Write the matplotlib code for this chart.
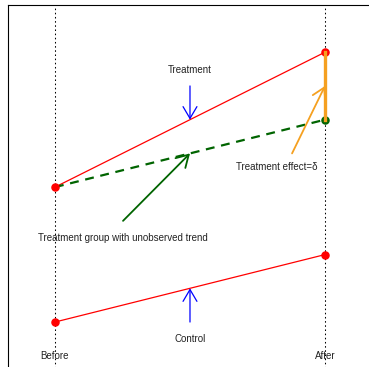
import matplotlib
matplotlib.use("Agg")
import matplotlib.pyplot as plt
from matplotlib.patches import FancyArrowPatch

plt.rcParams['font.family'] = ['Liberation Sans', 'DejaVu Sans']

# Data: two periods, treatment / control outcomes
periods = [0, 1]
period_labels = ["Before", "After"]
treatment = [3, 5]
control = [1, 2]
counterfactual = [3, 4]  # treatment group with unobserved (parallel) trend

fig = plt.figure(figsize=(3.69, 3.67), dpi=100)
ax = fig.add_axes([8 / 369, -9 / 367, 371 / 369, 371 / 367])
ax.set_xlim(-0.174, 1.2)
ax.set_ylim(0.2, 5.7)
ax.set_xticks([])
ax.set_yticks([])
for s in ax.spines.values():
    s.set_linewidth(0.8)

# vertical guide lines
for p in periods:
    ax.axvline(p, color="black", lw=0.75, linestyle=(0, (1.5, 2.5)), zorder=1)

ax.plot(periods, treatment, color="red", lw=0.9, zorder=2)
ax.plot(periods, control, color="red", lw=0.9, zorder=2)
ax.plot(periods, counterfactual, color="darkgreen", lw=1.6, dashes=[4, 3], zorder=2)

ax.scatter(periods, treatment, color="red", s=26, zorder=3)
ax.scatter(periods, control, color="red", s=26, zorder=3)
ax.scatter([periods[1]], [counterfactual[1]], color="darkgreen", s=26, zorder=3)

# treatment effect
ax.plot([periods[1], periods[1]], [counterfactual[1], treatment[1]],
        color="#F5A020", lw=2.4, zorder=4)


def arrow(p0, p1, color, lw):
    a = FancyArrowPatch(p0, p1, arrowstyle="->,head_length=8.5,head_width=5",
                        mutation_scale=1, shrinkA=0, shrinkB=0,
                        color=color, lw=lw, zorder=5)
    ax.add_patch(a)


arrow((0.5, 4.5), (0.5, 4.0), "blue", 0.9)
arrow((0.5, 1.0), (0.5, 1.5), "blue", 0.9)
arrow((0.252, 2.5), (0.5, 3.5), "darkgreen", 1.3)
arrow((0.878, 3.5), (1.0, 4.5), "#F5A020", 1.3)

tk = dict(fontsize=7, color="#222222", ha="center", va="center")
ax.text(0.5, 4.73, "Treatment", **tk)
ax.text(0.5, 0.75, "Control", **tk)
ax.text(0.82, 3.30, "Treatment effect=δ", **tk)
ax.text(0.25, 2.24, "Treatment group with unobserved trend", **tk)
for p, lab in zip(periods, period_labels):
    ax.text(p, 0.5, lab, **tk)

fig.savefig("out.png", dpi=100)
